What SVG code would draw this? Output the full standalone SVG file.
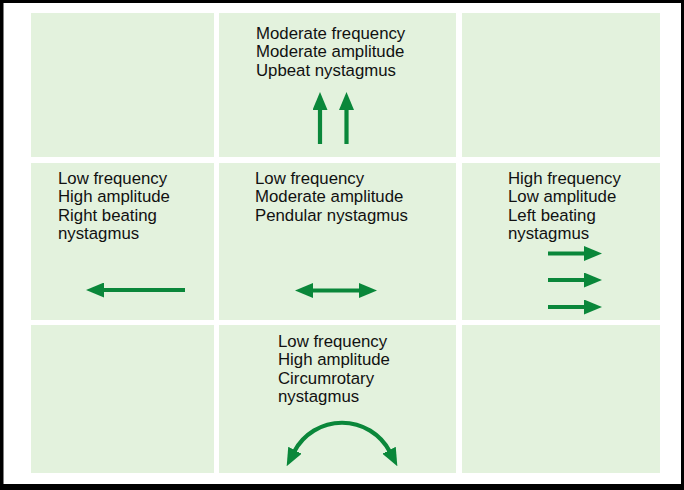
<svg xmlns="http://www.w3.org/2000/svg" width="684" height="490" viewBox="0 0 684 490">
<style>
.cell{fill:#e3f2dd}
.t{font-family:"Liberation Sans",Arial,Helvetica,sans-serif;font-size:16.8px;fill:#111}
.ar{stroke:#0a873a;fill:none}
</style>
<defs>
<marker id="hd" viewBox="0 0 18 15" refX="2" refY="7.5" markerWidth="18" markerHeight="15" markerUnits="userSpaceOnUse" orient="auto-start-reverse">
<path d="M0,0 L18,7.5 L0,15 z" fill="#0a873a"/>
</marker>
</defs>
<rect x="0" y="0" width="684" height="490" fill="#000"/>
<rect x="3.5" y="3" width="677.5" height="481" fill="#fff"/>
<g id="cell-tl"><rect class="cell" x="31" y="13" width="183" height="144"/></g>
<g id="cell-tc"><rect class="cell" x="219" y="13" width="237" height="144"/>
<text class="t" x="256" y="38.5">Moderate frequency</text>
<text class="t" x="256" y="57">Moderate amplitude</text>
<text class="t" x="256" y="75.5">Upbeat nystagmus</text></g>
<g id="cell-tr"><rect class="cell" x="462" y="13" width="198" height="144"/></g>
<g id="cell-ml"><rect class="cell" x="31" y="163" width="183" height="157"/>
<text class="t" x="58" y="183.5">Low frequency</text>
<text class="t" x="58" y="202">High amplitude</text>
<text class="t" x="58" y="220.5">Right beating</text>
<text class="t" x="58" y="239">nystagmus</text></g>
<g id="cell-mc"><rect class="cell" x="219" y="163" width="237" height="157"/>
<text class="t" x="255" y="183.5">Low frequency</text>
<text class="t" x="255" y="202">Moderate amplitude</text>
<text class="t" x="255" y="220.5">Pendular nystagmus</text></g>
<g id="cell-mr"><rect class="cell" x="462" y="163" width="198" height="157"/>
<text class="t" x="508" y="183.5">High frequency</text>
<text class="t" x="508" y="202">Low amplitude</text>
<text class="t" x="508" y="220.5">Left beating</text>
<text class="t" x="508" y="239">nystagmus</text></g>
<g id="cell-bl"><rect class="cell" x="31" y="325" width="183" height="148"/></g>
<g id="cell-bc"><rect class="cell" x="219" y="325" width="237" height="148"/>
<text class="t" x="278" y="346.5">Low frequency</text>
<text class="t" x="278" y="365">High amplitude</text>
<text class="t" x="278" y="383.5">Circumrotary</text>
<text class="t" x="278" y="402">nystagmus</text></g>
<g id="cell-br"><rect class="cell" x="462" y="325" width="198" height="148"/></g>
<g id="connectors">
<line class="ar" x1="320" y1="144" x2="320" y2="108" stroke-width="4.2" marker-end="url(#hd)"/>
<line class="ar" x1="346.5" y1="144" x2="346.5" y2="108" stroke-width="4.2" marker-end="url(#hd)"/>
<line class="ar" x1="185" y1="290" x2="102" y2="290" stroke-width="3.8" marker-end="url(#hd)"/>
<line class="ar" x1="311" y1="290.5" x2="361" y2="290.5" stroke-width="3.8" marker-start="url(#hd)" marker-end="url(#hd)"/>
<line class="ar" x1="548" y1="253.5" x2="586" y2="253.5" stroke-width="3.8" marker-end="url(#hd)"/>
<line class="ar" x1="548" y1="280" x2="586" y2="280" stroke-width="3.8" marker-end="url(#hd)"/>
<line class="ar" x1="548" y1="307" x2="586" y2="307" stroke-width="3.8" marker-end="url(#hd)"/>
<path class="ar" d="M294,452 A54,54 0 0 1 390,452" stroke-width="4.2" marker-start="url(#hd)" marker-end="url(#hd)"/>
</g>
</svg>
